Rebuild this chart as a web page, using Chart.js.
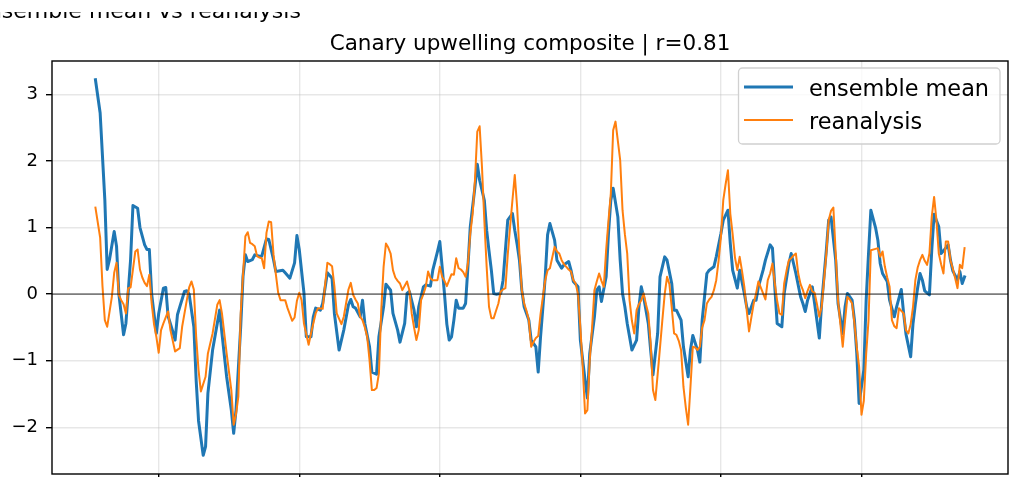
<!DOCTYPE html>
<html><head><meta charset="utf-8">
<script src="https://cdn.jsdelivr.net/npm/chart.js@4.4.1/dist/chart.umd.min.js"></script>
<style>html,body{margin:0;padding:0;background:#fff;overflow:hidden}canvas{display:block}</style>
</head><body>
<canvas id="c" width="1012" height="477"></canvas>
<script>
// ---- data (month index, anomaly) ----
const suptitleText = 'Ensemble mean vs reanalysis';
const titleText = 'Canary upwelling composite | r=0.81';
const seriesNames = ['ensemble mean', 'reanalysis'];
const ensembleMean = [[0,3.22],[2,2.72],[4,1.42],[5,0.37],[6,0.52],[8,0.94],[9,0.72],[10,0.0],[12,-0.61],[13,-0.44],[15,0.52],[16,1.33],[18,1.29],[19,1.0],[21,0.74],[22,0.67],[23,0.67],[24,0.0],[26,-0.59],[27,-0.29],[29,0.09],[30,0.1],[31,-0.33],[33,-0.56],[34,-0.69],[35,-0.31],[36,-0.19],[38,0.04],[39,0.05],[40,0.0],[42,-0.49],[43,-1.3],[44,-1.9],[46,-2.42],[47,-2.29],[48,-1.49],[50,-0.84],[53,-0.24],[54,-0.59],[56,-1.24],[58,-1.74],[59,-2.09],[60,-1.74],[62,-0.49],[63,0.27],[64,0.59],[65,0.49],[67,0.52],[68,0.59],[70,0.57],[71,0.57],[73,0.83],[74,0.82],[76,0.52],[77,0.34],[80,0.36],[81,0.32],[83,0.24],[85,0.47],[86,0.88],[87,0.67],[89,0.02],[90,-0.64],[92,-0.64],[93,-0.34],[94,-0.21],[96,-0.24],[97,-0.14],[99,0.32],[101,0.24],[102,-0.29],[104,-0.84],[106,-0.54],[108,-0.16],[109,-0.08],[110,-0.19],[111,-0.21],[113,-0.34],[114,-0.09],[115,-0.44],[117,-0.79],[118,-1.17],[120,-1.2],[121,-0.64],[123,-0.19],[124,0.15],[126,0.06],[127,-0.29],[129,-0.54],[130,-0.72],[132,-0.44],[133,0.01],[134,0.04],[136,-0.24],[137,-0.49],[138,-0.19],[140,0.11],[141,0.14],[143,0.12],[144,0.36],[146,0.64],[147,0.79],[148,0.41],[149,0.0],[150,-0.45],[151,-0.69],[152,-0.64],[153,-0.39],[154,-0.09],[155,-0.21],[157,-0.21],[158,-0.14],[159,0.41],[160,1.01],[162,1.61],[163,1.95],[164,1.71],[166,1.41],[167,0.96],[168,0.65],[169,0.36],[170,0.01],[171,0.0],[173,0.01],[174,0.21],[175,0.66],[176,1.11],[178,1.21],[179,0.96],[180,0.75],[181,0.51],[182,0.06],[183,-0.19],[185,-0.39],[186,-0.69],[188,-0.79],[189,-1.17],[190,-0.64],[191,-0.2],[192,0.26],[193,0.89],[194,1.06],[196,0.81],[197,0.51],[199,0.39],[200,0.44],[202,0.49],[203,0.36],[204,0.19],[206,0.11],[207,-0.69],[209,-1.29],[210,-1.56],[211,-0.89],[213,-0.34],[214,0.06],[215,0.11],[216,-0.11],[218,0.26],[219,0.91],[220,1.41],[221,1.59],[223,1.16],[224,0.51],[225,0.01],[226,-0.19],[227,-0.44],[229,-0.84],[231,-0.69],[232,-0.19],[233,0.11],[234,-0.04],[236,-0.44],[237,-0.84],[238,-1.21],[240,-0.59],[241,0.26],[243,0.56],[244,0.51],[246,0.16],[247,-0.24],[248,-0.24],[250,-0.39],[251,-0.79],[253,-1.24],[254,-0.84],[255,-0.62],[257,-0.84],[258,-1.02],[259,-0.39],[261,0.31],[262,0.36],[264,0.41],[265,0.56],[267,0.91],[268,1.11],[270,1.26],[271,0.76],[272,0.36],[274,0.09],[275,0.36],[277,0.01],[278,-0.19],[279,-0.29],[281,-0.09],[282,-0.09],[283,0.11],[285,0.36],[286,0.51],[288,0.74],[289,0.69],[290,0.11],[291,-0.44],[293,-0.49],[294,0.01],[296,0.46],[297,0.61],[298,0.46],[299,0.31],[301,-0.04],[302,-0.14],[303,-0.26],[304,-0.09],[306,0.11],[307,-0.14],[309,-0.66],[310,-0.14],[312,0.66],[313,1.11],[314,1.16],[316,0.51],[317,-0.14],[319,-0.59],[320,-0.19],[321,0.01],[323,-0.09],[324,-0.39],[325,-0.89],[326,-1.64],[328,-1.14],[329,-0.09],[330,0.6],[331,1.26],[333,1.0],[334,0.81],[335,0.46],[336,0.31],[338,0.19],[339,-0.09],[341,-0.34],[342,-0.19],[344,0.07],[345,-0.29],[346,-0.6],[348,-0.94],[349,-0.44],[350,-0.15],[351,0.1],[352,0.31],[353,0.21],[354,0.05],[356,-0.01],[357,0.66],[358,1.2],[360,1.01],[361,0.61],[362,0.65],[364,0.74],[365,0.51],[366,0.35],[368,0.21],[369,0.34],[370,0.16],[371,0.26]];
const reanalysis = [[0,1.3],[2,0.85],[3,0.12],[4,-0.39],[5,-0.49],[7,-0.04],[8,0.32],[9,0.47],[10,-0.01],[11,-0.09],[12,-0.15],[13,-0.29],[14,0.09],[15,0.1],[17,0.64],[18,0.67],[19,0.37],[20,0.25],[21,0.17],[22,0.12],[23,0.29],[24,-0.14],[25,-0.45],[26,-0.64],[27,-0.88],[28,-0.54],[29,-0.44],[30,-0.35],[31,-0.26],[32,-0.54],[34,-0.86],[36,-0.81],[37,-0.49],[39,-0.09],[40,0.1],[41,0.19],[42,0.07],[43,-0.64],[44,-1.14],[45,-1.46],[47,-1.24],[48,-0.89],[50,-0.59],[52,-0.16],[53,-0.09],[54,-0.29],[56,-0.89],[58,-1.44],[59,-1.96],[60,-1.8],[61,-1.54],[62,-0.29],[64,0.87],[65,0.93],[66,0.77],[67,0.75],[68,0.72],[69,0.57],[70,0.55],[71,0.54],[72,0.39],[73,0.92],[74,1.09],[75,1.08],[76,0.6],[77,0.3],[78,0.02],[79,-0.09],[81,-0.09],[82,-0.21],[84,-0.4],[85,-0.35],[86,-0.1],[87,0.02],[88,-0.09],[89,-0.44],[90,-0.6],[91,-0.76],[92,-0.59],[94,-0.29],[95,-0.21],[97,-0.22],[99,0.47],[100,0.45],[101,0.42],[102,0.12],[103,-0.29],[105,-0.45],[106,-0.34],[108,0.07],[109,0.17],[110,-0.01],[111,-0.08],[112,-0.14],[113,-0.34],[114,-0.39],[115,-0.5],[116,-0.64],[117,-0.99],[118,-1.44],[119,-1.44],[120,-1.41],[121,-1.19],[122,-0.24],[123,0.41],[124,0.76],[125,0.7],[126,0.61],[127,0.36],[128,0.25],[129,0.2],[130,0.16],[131,0.06],[133,0.19],[134,0.06],[135,-0.29],[136,-0.5],[137,-0.69],[138,-0.54],[139,-0.09],[140,0.0],[141,0.11],[142,0.34],[143,0.24],[144,0.21],[146,0.21],[147,0.41],[148,0.26],[149,0.2],[150,0.12],[152,0.3],[153,0.29],[154,0.54],[155,0.39],[156,0.37],[157,0.33],[158,0.26],[159,0.46],[160,0.91],[161,1.2],[162,1.71],[163,2.44],[164,2.52],[165,1.91],[166,1.11],[167,0.41],[168,-0.19],[169,-0.36],[170,-0.36],[171,-0.25],[172,-0.14],[173,0.04],[174,0.07],[175,0.09],[176,0.59],[177,1.01],[178,1.41],[179,1.79],[180,1.31],[181,0.61],[182,0.06],[183,-0.14],[184,-0.25],[185,-0.39],[186,-0.79],[187,-0.72],[188,-0.66],[189,-0.63],[190,-0.3],[191,-0.04],[192,0.21],[193,0.36],[194,0.39],[195,0.55],[196,0.71],[197,0.64],[198,0.61],[199,0.51],[200,0.45],[201,0.41],[202,0.37],[203,0.34],[204,0.21],[205,0.16],[206,0.0],[207,-0.5],[208,-1.09],[209,-1.79],[210,-1.74],[211,-0.99],[212,-0.5],[213,0.06],[214,0.19],[215,0.31],[216,0.2],[217,0.11],[218,0.66],[219,1.1],[220,1.51],[221,2.46],[222,2.59],[223,2.3],[224,2.01],[225,1.26],[226,0.9],[227,0.61],[228,-0.09],[229,-0.4],[230,-0.59],[231,-0.24],[232,-0.15],[233,-0.09],[234,0.01],[235,-0.15],[236,-0.29],[237,-0.74],[238,-1.44],[239,-1.59],[240,-1.2],[241,-0.8],[242,-0.39],[243,0.0],[244,0.26],[245,0.15],[246,-0.2],[247,-0.59],[248,-0.61],[249,-0.7],[250,-0.84],[251,-1.39],[252,-1.7],[253,-1.96],[254,-1.39],[255,-0.79],[256,-0.8],[257,-0.84],[258,-0.79],[259,-0.5],[260,-0.39],[261,-0.14],[262,-0.08],[263,-0.04],[264,0.06],[265,0.21],[266,0.5],[267,0.86],[268,1.41],[269,1.65],[270,1.86],[271,1.21],[272,0.9],[273,0.55],[274,0.36],[275,0.56],[276,0.35],[277,0.11],[278,-0.24],[279,-0.56],[280,-0.35],[281,-0.14],[282,0.01],[283,0.19],[284,0.1],[285,0.01],[286,-0.08],[287,0.21],[288,0.31],[289,0.46],[290,0.16],[291,-0.1],[292,-0.29],[293,-0.31],[294,0.16],[295,0.35],[296,0.51],[297,0.54],[298,0.58],[299,0.61],[300,0.31],[301,0.15],[302,0.06],[303,-0.06],[304,0.05],[305,0.14],[306,0.04],[307,0.02],[308,-0.15],[309,-0.34],[310,-0.19],[311,0.2],[312,0.61],[313,1.11],[314,1.25],[315,1.3],[316,0.61],[317,-0.1],[318,-0.45],[319,-0.79],[320,-0.39],[321,-0.04],[322,-0.08],[323,-0.14],[324,-0.44],[325,-0.8],[326,-1.09],[327,-1.81],[328,-1.6],[329,-0.9],[330,-0.4],[331,0.66],[333,0.68],[334,0.69],[335,0.56],[336,0.64],[337,0.41],[338,0.25],[339,0.11],[340,-0.39],[341,-0.48],[342,-0.51],[343,-0.21],[344,-0.25],[345,-0.29],[346,-0.54],[347,-0.59],[348,-0.45],[349,-0.19],[350,0.21],[351,0.4],[352,0.51],[353,0.59],[354,0.5],[355,0.44],[356,0.61],[357,1.16],[358,1.46],[359,1.11],[360,0.61],[361,0.45],[362,0.31],[363,0.79],[364,0.79],[365,0.51],[366,0.38],[367,0.24],[368,0.09],[369,0.44],[370,0.39],[371,0.69]];
const yTicks = [-2, -1, 0, 1, 2, 3];
const xTicks = [27, 87, 147, 207, 267, 327];
const xRange = [-18.55, 389.55];
const yRange = [-2.70, 3.50];

// ---- styling ----
const FONT = "'DejaVu Sans', 'Liberation Sans', sans-serif";
const BLUE = '#1f77b4', ORANGE = '#ff7f0e';
const GRID = 'rgba(176,176,176,0.3)';
const toPts = arr => arr.map(([x, y]) => ({ x, y }));
const minus = v => (v < 0 ? '\u2212' + Math.abs(v) : String(v));

const decor = {
  id: 'decor',
  afterDatasetsDraw(chart) {
    const { ctx, chartArea: a, scales } = chart;
    const y0 = scales.y.getPixelForValue(0);
    ctx.save();
    ctx.strokeStyle = 'rgba(0,0,0,0.65)';
    ctx.lineWidth = 1.3;
    ctx.beginPath(); ctx.moveTo(a.left, y0); ctx.lineTo(a.right, y0); ctx.stroke();
    // spines
    ctx.strokeStyle = '#000';
    ctx.lineWidth = 1.4;
    ctx.strokeRect(a.left, a.top, a.right - a.left, a.bottom - a.top);
    ctx.restore();
  },
  afterDraw(chart) {
    const { ctx, chartArea: a } = chart;
    ctx.save();
    // axes title
    ctx.fillStyle = '#000';
    ctx.font = '21.5px ' + FONT;
    ctx.textAlign = 'center';
    ctx.textBaseline = 'alphabetic';
    ctx.fillText(titleText, (a.left + a.right) / 2, 50);
    // figure title, partly cut off at the top of the picture
    ctx.save();
    ctx.beginPath(); ctx.rect(0, 12, 600, 20); ctx.clip();
    ctx.textAlign = 'left';
    ctx.font = '22px ' + FONT;
    ctx.fillText(suptitleText, -26, 17.5);
    ctx.restore();
    // legend
    const bx = 738.5, by = 68, bw = 261.5, bh = 76, r = 4;
    ctx.beginPath();
    ctx.moveTo(bx + r, by);
    ctx.lineTo(bx + bw - r, by); ctx.arcTo(bx + bw, by, bx + bw, by + r, r);
    ctx.lineTo(bx + bw, by + bh - r); ctx.arcTo(bx + bw, by + bh, bx + bw - r, by + bh, r);
    ctx.lineTo(bx + r, by + bh); ctx.arcTo(bx, by + bh, bx, by + bh - r, r);
    ctx.lineTo(bx, by + r); ctx.arcTo(bx, by, bx + r, by, r);
    ctx.closePath();
    ctx.fillStyle = 'rgba(255,255,255,0.8)';
    ctx.fill();
    ctx.strokeStyle = '#d0d0d0';
    ctx.lineWidth = 1.3;
    ctx.stroke();
    const ds = chart.data.datasets;
    const rows = [87, 120];
    ds.forEach((d, i) => {
      ctx.strokeStyle = d.borderColor;
      ctx.lineWidth = d.borderWidth;
      ctx.lineCap = 'butt';
      ctx.beginPath(); ctx.moveTo(744, rows[i]); ctx.lineTo(793, rows[i]); ctx.stroke();
      ctx.fillStyle = '#000';
      ctx.font = '22.4px ' + FONT;
      ctx.textAlign = 'left';
      ctx.fillText(d.label, 809, rows[i] + 9);
    });
    ctx.restore();
  }
};

const gridOpts = { color: GRID, lineWidth: 1.4, tickColor: '#000', tickLength: 6, tickWidth: 1.4, drawTicks: true };

new Chart(document.getElementById('c'), {
  type: 'line',
  data: {
    datasets: [
      { label: seriesNames[0], data: toPts(ensembleMean), borderColor: BLUE, backgroundColor: BLUE,
        borderWidth: 3.0, pointRadius: 0, tension: 0, fill: false, borderJoinStyle: 'round', borderCapStyle: 'square', order: 1 },
      { label: seriesNames[1], data: toPts(reanalysis), borderColor: ORANGE, backgroundColor: ORANGE,
        borderWidth: 2.0, pointRadius: 0, tension: 0, fill: false, borderJoinStyle: 'round', borderCapStyle: 'square', order: 0 }
    ]
  },
  options: {
    responsive: false,
    animation: false,
    devicePixelRatio: 1,
    events: [],
    layout: { padding: { top: 61, right: 4, left: 0, bottom: 0 } },
    plugins: { legend: { display: false }, title: { display: false }, tooltip: { enabled: false } },
    scales: {
      x: {
        type: 'linear', min: xRange[0], max: xRange[1],
        afterBuildTicks: s => { s.ticks = xTicks.map(v => ({ value: v })); },
        ticks: { display: false },
        grid: gridOpts,
        border: { display: false },
        afterFit: s => { s.height = 3; s.paddingLeft = 0; s.paddingRight = 0; }
      },
      y: {
        type: 'linear', min: yRange[0], max: yRange[1],
        afterBuildTicks: s => { s.ticks = yTicks.map(v => ({ value: v })); },
        ticks: { color: '#000', font: { family: FONT, size: 18 }, padding: 8, callback: v => minus(v) },
        grid: gridOpts,
        border: { display: false },
        afterFit: s => { s.width = 52; s.paddingTop = 0; s.paddingBottom = 0; }
      }
    }
  },
  plugins: [decor]
});
</script>
</body></html>
